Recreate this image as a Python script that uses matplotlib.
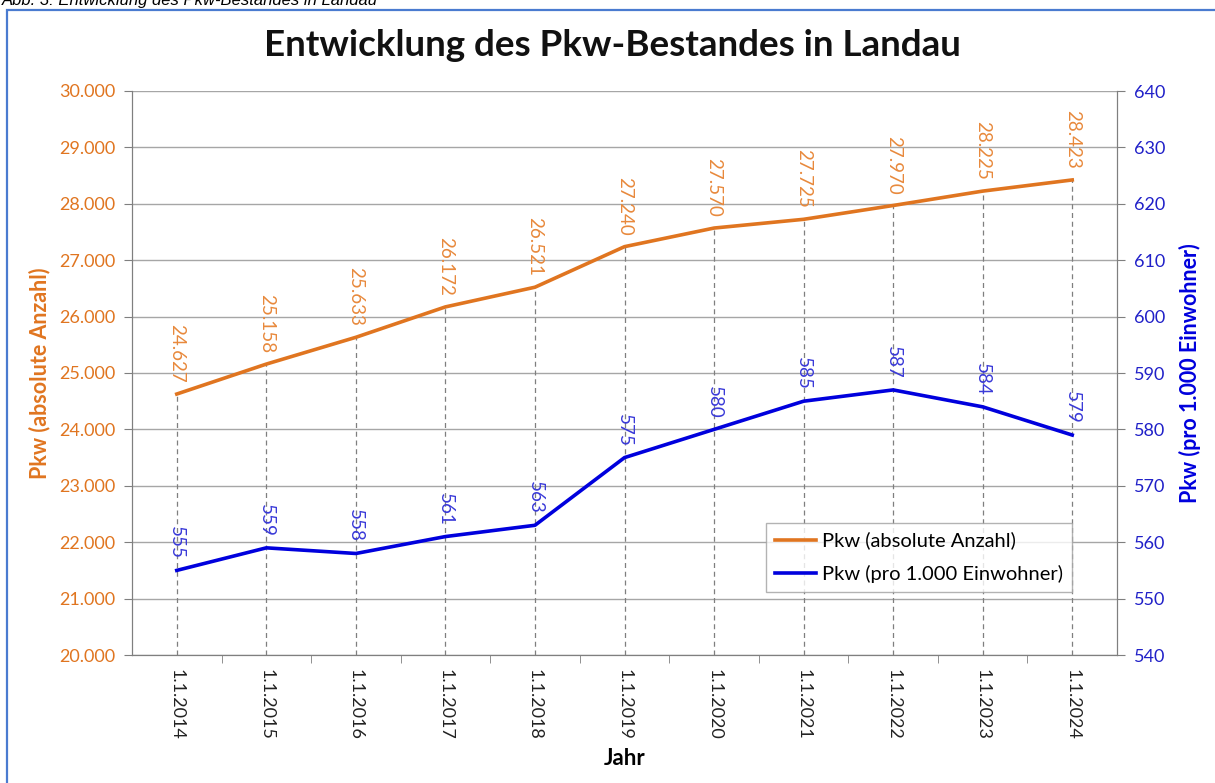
import matplotlib.pyplot as plt
from matplotlib.patches import Rectangle
from matplotlib.ticker import FuncFormatter

# data
years = ["1.1.2014", "1.1.2015", "1.1.2016", "1.1.2017", "1.1.2018", "1.1.2019",
         "1.1.2020", "1.1.2021", "1.1.2022", "1.1.2023", "1.1.2024"]
pkw_abs = [24627, 25158, 25633, 26172, 26521, 27240, 27570, 27725, 27970, 28225, 28423]
pkw_per_1000 = [555, 559, 558, 561, 563, 575, 580, 585, 587, 584, 579]

orange = "#E07520"
orange_lbl = "#E8893C"
blue = "#0000DD"
blue_lbl = "#3A3AD8"
grid_col = "#A6A6A6"

plt.rcParams['font.family'] = ['Lato', 'DejaVu Sans']


def de_fmt(v, pos=None):
    return f"{v:,.0f}".replace(",", ".")


fig = plt.figure(figsize=(12.15, 7.83), dpi=100)
ax = fig.add_axes([132 / 1215, 1 - 655 / 783, 985 / 1215, 564 / 783])
ax2 = ax.twinx()

x = list(range(len(years)))

# outer frame and cut-off caption
fig.patches.append(Rectangle((7 / 1215, -0.05), 1.2, 1 - 10 / 783 + 0.05,
                             transform=fig.transFigure, fill=False,
                             edgecolor="#4A7BD0", lw=1.6))
fig.text(2 / 1215, 1 - 5 / 783, "Abb. 3: Entwicklung des Pkw-Bestandes in Landau",
         fontsize=12, family="Liberation Sans", style="italic", va="baseline", ha="left")

# left axis
ax.set_xlim(-0.5, len(years) - 0.5)
ax.set_ylim(20000, 30000)
ax.set_yticks(range(20000, 30001, 1000))
ax.yaxis.set_major_formatter(FuncFormatter(de_fmt))
ax.grid(axis="y", color=grid_col, lw=1)
ax.set_axisbelow(True)

ax.vlines(x, 20000, pkw_abs, colors="#7F7F7F", linestyles=(0, (4, 3)), lw=0.9, zorder=1)
l1, = ax.plot(x, pkw_abs, color=orange, lw=2.6, zorder=3, label="Pkw (absolute Anzahl)")
for xi, v in zip(x, pkw_abs):
    ax.annotate(de_fmt(v), (xi, v), xytext=(0, 8), textcoords="offset points",
                rotation=-90, ha="center", va="bottom", color=orange_lbl, fontsize=13.5)

# right axis
ax2.set_ylim(540, 640)
ax2.set_yticks(range(540, 641, 10))
l2, = ax2.plot(x, pkw_per_1000, color=blue, lw=2.6, zorder=3, label="Pkw (pro 1.000 Einwohner)")
for xi, v in zip(x, pkw_per_1000):
    ax2.annotate(str(v), (xi, v), xytext=(0, 8), textcoords="offset points",
                 rotation=-90, ha="center", va="bottom", color=blue_lbl, fontsize=13.5)

# x ticks: labels at centers, marks at category boundaries
ax.set_xticks(x)
ax.set_xticklabels(years, rotation=-90, fontsize=13, color="#222222")
ax.tick_params(axis="x", which="major", length=0, pad=10)
ax.set_xticks([i + 0.5 for i in x[:-1]], minor=True)
ax.tick_params(axis="x", which="minor", length=6, color="#7F7F7F", direction="out")

ax.tick_params(axis="y", labelcolor=orange, labelsize=13, length=6, color="#7F7F7F", pad=6)
ax2.tick_params(axis="y", labelcolor="#2020C8", labelsize=13, length=6, color="#7F7F7F", pad=6)

for a in (ax, ax2):
    a.spines["top"].set_visible(False)
    for s in ("left", "right", "bottom"):
        a.spines[s].set_color("#7F7F7F")

ax.set_ylabel("Pkw (absolute Anzahl)", color=orange, fontsize=15.5, fontweight="bold", labelpad=6)
ax2.set_ylabel("Pkw (pro 1.000 Einwohner)", color=blue, fontsize=15.5, fontweight="bold", labelpad=10)
ax.set_xlabel("Jahr", fontsize=16, fontweight="bold", labelpad=6)

fig.text(0.504, 1 - 45 / 783, "Entwicklung des Pkw-Bestandes in Landau",
         fontsize=26.5, fontweight="bold", ha="center", va="center", color="#111111")

leg = ax.legend(handles=[l1, l2], loc="lower right", bbox_to_anchor=(0.954, 0.112),
                borderaxespad=0, fontsize=14.5, frameon=True, fancybox=False,
                edgecolor="#A0A0A0", handlelength=2.0, handletextpad=0.3,
                borderpad=0.45, labelspacing=0.75)
leg.get_frame().set_linewidth(1)
leg.set_zorder(5)

fig.savefig("out.png", dpi=100)
